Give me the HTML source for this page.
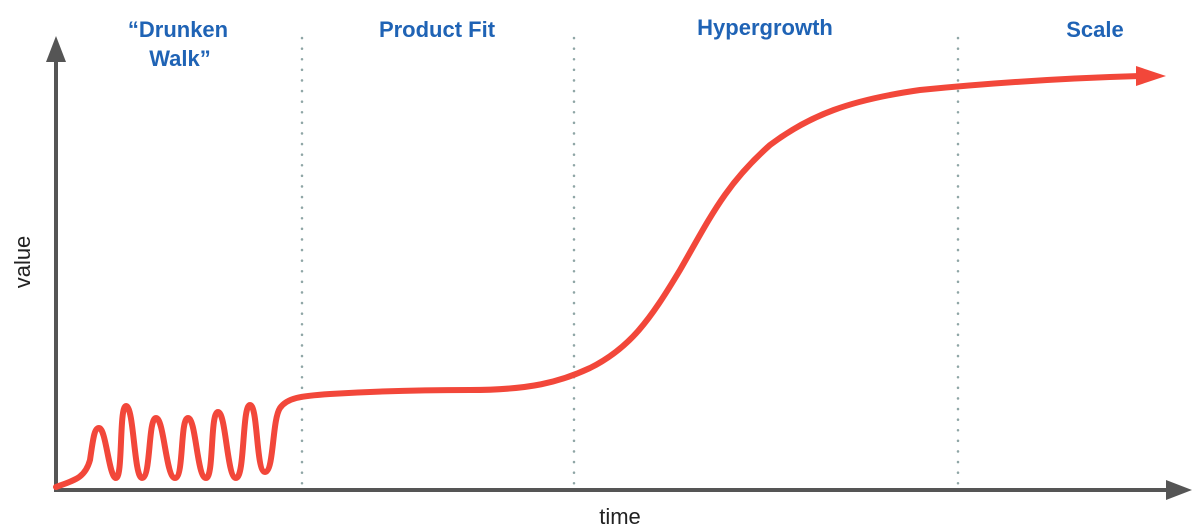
<!DOCTYPE html>
<html><head><style>
html,body{margin:0;padding:0;background:#fff;width:1200px;height:530px;overflow:hidden}
</style></head><body>
<svg width="1200" height="530" xmlns="http://www.w3.org/2000/svg">
<g stroke="#8fa6a6" stroke-width="2.5" stroke-dasharray="0.1 10.5" stroke-linecap="round">
<line x1="302" y1="38" x2="302" y2="486"/>
<line x1="574" y1="38" x2="574" y2="486"/>
<line x1="958" y1="38" x2="958" y2="486"/>
</g>
<g stroke="#555" stroke-width="4" fill="none">
<line x1="56" y1="490" x2="56" y2="58"/>
<line x1="54" y1="490" x2="1172" y2="490"/>
</g>
<polygon points="56,36 46,62 66,62" fill="#555"/>
<polygon points="1192,490 1166,480 1166,500" fill="#555"/>
<path d="M56,487 C75,480 85,478 90,460 C93,440 94,428 99,428 C106,428 109,478 116,478 C123,478 119,406 126,406 C134,406 134,478 142,478 C151,478 148,418 156,418 C164,418 166,478 175,478 C184,478 180,418 188,418 C196,418 197,478 206,478 C214,478 210,412 218,412 C226,412 227,478 236,478 C245,478 242,405 250,405 C258,405 256,472 265,472 C274,472 272,420 280,408 C287,398 300,396 330,394 C380,391 430,390 470,390 C530,390 560,382 590,368 C630,348 650,320 680,270 C710,218 725,185 770,145 C810,115 850,100 920,90 C1000,82 1070,78 1140,76" fill="none" stroke="#f2473a" stroke-width="6" stroke-linecap="round" stroke-linejoin="round"/>
<polygon points="1166,76 1136,66 1136,86" fill="#f2473a"/>
<g font-family="Liberation Sans, sans-serif" font-weight="bold" font-size="22" fill="#1f63b5" text-anchor="middle">
<text x="178" y="37">“Drunken</text>
<text x="180" y="66">Walk”</text>
<text x="437" y="37">Product Fit</text>
<text x="765" y="35">Hypergrowth</text>
<text x="1095" y="37">Scale</text>
</g>
<g font-family="Liberation Sans, sans-serif" font-size="22" fill="#222" text-anchor="middle">
<text x="620" y="524">time</text>
<text transform="translate(30,262) rotate(-90)">value</text>
</g>
</svg>
</body></html>
